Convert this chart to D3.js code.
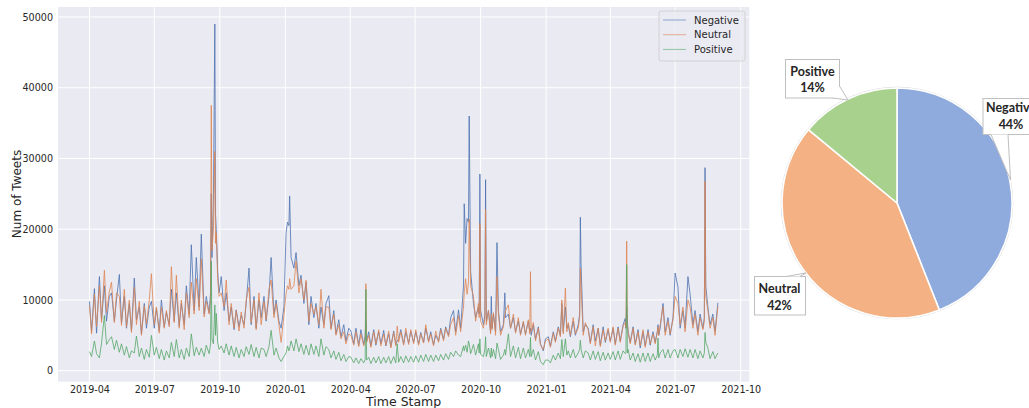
<!DOCTYPE html>
<html><head><meta charset="utf-8">
<script src="https://cdn.jsdelivr.net/npm/d3@7"></script>
<style>body{margin:0;background:#fff;} svg{display:block;}</style>
</head><body><svg id="c" width="1029" height="408"></svg>
<script>
// ---------------- DATA ----------------
const startDate = Date.UTC(2019, 3, 1); // day offsets below count from 2019-04-01
const days = [
0,3,7,10,14,17,21,24,28,
31,35,38,42,45,49,52,56,59,
63,66,70,73,77,80,84,87,
91,94,98,101,105,108,112,115,119,
122,126,129,133,136,140,143,147,150,
154,157,161,164,168,170,171,172,174,176,177,178,180,182,
185,189,192,196,199,203,206,210,213,
217,220,224,227,231,234,238,241,
245,248,252,255,259,262,266,269,273,
276,278,280,281,283,287,290,294,297,301,304,
308,311,315,318,322,325,329,332,
336,339,343,346,350,353,357,360,364,
367,371,374,378,381,385,387,388,389,392,395,
399,402,406,409,413,416,420,423,
427,430,432,434,437,441,444,448,451,455,
458,462,465,469,472,476,479,483,486,
490,493,497,500,504,507,511,514,518,
521,525,526,528,530,532,533,535,539,542,546,547,548,549,
553,555,556,557,560,563,564,565,567,570,572,574,577,
581,583,584,588,591,595,598,602,605,609,
612,616,618,619,620,623,626,630,633,637,640,
644,647,651,654,658,661,663,665,668,670,
672,675,679,682,686,688,689,690,693,696,
700,703,707,710,714,717,721,724,728,
731,735,738,742,745,749,752,753,754,755,756,759,
763,766,770,773,777,780,784,787,791,
794,797,798,799,801,805,808,812,815,819,
822,826,829,833,836,840,843,847,850,
854,857,861,863,864,865,868,871,875,878,882
];
const negative = [
9800,5600,11600,5300,13300,7200,12000,7000,10500,
11000,7000,10000,13600,6800,10500,6000,9500,5600,
13100,7200,9000,5200,9500,6000,9000,9800,
6000,8800,5600,10000,6200,8200,6500,11500,7000,
11000,6300,9500,6500,12000,8000,17800,8500,16000,
9000,19300,8000,10500,8200,11000,25000,16000,24000,49000,22000,20000,14000,11000,
13300,8500,11000,7000,9000,5800,8600,6200,7800,
6500,9500,14500,6500,10500,6000,10000,7500,
10500,7000,10500,16000,8000,10000,7000,6000,9000,
19500,21000,20500,24700,16000,14500,16700,12000,13500,9500,12500,
6500,10500,7500,9500,6000,9000,6500,9500,
10600,6000,8500,5200,7200,4800,6500,4200,6000,
5600,3800,6000,3600,5800,3700,5000,7000,4200,5500,3500,
5800,3600,5500,3800,5700,3500,5200,3400,
5600,3700,4200,4500,5800,3800,5500,3900,5600,4000,
5500,3800,5400,4000,6000,4200,5500,3700,5000,
4200,6000,4500,6200,5000,7500,8500,5500,8600,
6000,12000,23600,18000,21500,21000,36000,14000,9500,7500,9000,8000,27800,8500,
6500,8000,27000,7000,8500,5500,10500,6000,8000,5500,18100,8500,5500,
6500,11000,7500,8000,6000,7500,5500,7000,5200,6800,
5200,7000,5500,6000,5000,6500,4500,6200,3800,2800,4500,
4800,3500,5500,4200,6200,5000,9500,5500,9000,6000,
6500,4800,7000,5000,6500,8000,21700,15000,5500,6500,
6000,4000,6500,4200,6000,3600,6200,4000,5800,
4200,6000,3800,6200,4200,6500,7400,6000,9000,7000,5500,4000,
6200,3800,5800,3200,5500,3500,5800,3600,5500,
4000,5500,6500,5000,6000,9500,5500,7500,5000,7500,
13800,11800,6000,8500,6000,13300,10800,6500,8500,
5500,8000,6000,7500,28700,12000,9000,6500,8000,5500,9600
];
const neutral = [
9200,5200,10800,6200,12000,6800,14200,8200,11200,
12500,6800,11000,10500,6400,11500,6200,10000,5400,
11800,6500,9800,5000,9200,6600,10000,13700,
6500,9000,5300,9000,6000,8500,6200,14700,6800,
13500,6000,10000,5800,11000,7500,12500,8000,13000,
8500,15800,7600,9800,8000,10000,37500,17000,20000,31000,18000,19500,13000,10500,
11000,9000,12800,6500,9500,6000,8500,5600,8300,
6000,10000,11800,6800,10000,5800,11000,6500,
9800,7200,11500,12800,7500,9500,6500,4000,7800,
11000,12000,11500,13000,11500,12000,15500,11000,13000,10000,12800,
7000,9500,8000,9000,6500,11500,6000,9000,
9000,5800,8000,5000,6500,4500,5500,3800,5200,
5000,3600,5500,3400,5200,3500,4500,12300,4000,5000,3300,
5500,3800,5800,3500,5200,3600,5600,3200,
5400,3500,6300,4000,5500,3600,6000,3700,5800,3800,
5800,3600,5200,3900,6500,4000,5200,3500,5600,
4000,5800,4200,6000,4800,6500,7500,5000,7800,
5500,9000,11000,13000,10800,12500,21400,12000,10500,7000,9500,7500,20800,7000,
6000,7500,22800,6500,8500,5200,8000,5800,8200,5000,13300,8000,5000,
6200,8000,8500,9300,6000,8000,5300,7500,5000,7000,
5000,7200,5200,14000,5500,6800,4200,6000,3600,3000,4200,
4500,3300,5300,4000,6000,4800,10000,5200,11700,5500,
6800,5000,7500,5200,6000,7500,14500,12000,5000,6800,
5800,3800,6200,3500,6000,3400,5800,4200,6000,
4000,6200,3600,6000,4000,6300,6800,6000,18300,6500,5500,3800,
6000,3600,5500,3500,5800,3300,5500,3800,5200,
3800,5500,6200,5000,6500,9000,5000,7000,5200,7200,
10500,9500,6500,9000,5500,10000,9000,6000,8000,
5000,7500,5800,7000,26800,10500,8500,6000,7500,5000,9100
];
const positive = [
2700,2000,4200,2400,1800,3900,7800,3700,4400,
4800,3000,4300,2600,3800,2200,3400,1800,2800,
2500,4900,2000,3200,1600,3000,1900,5000,
2200,3300,1700,3000,1500,2800,1800,4000,2000,
4400,1800,3000,1600,3200,2000,5200,2100,3300,
2200,3200,2000,3600,2400,3800,15500,4500,3800,9300,5000,8100,4000,3000,
3500,2500,3800,2200,3500,2000,3300,1800,3000,
2000,3400,2300,3700,2000,3300,1800,3200,
3000,2000,3400,5700,2200,3200,1800,1300,2000,
2500,3500,2800,3200,4200,2800,4500,2700,3800,2300,3600,
2200,3800,2300,3500,2000,4500,2200,3400,
3000,1800,2800,1600,2600,1400,2300,1300,2000,
1900,1100,1800,1000,1700,1100,1600,11500,1500,1900,1000,
1900,1100,2000,1000,1900,1100,2000,1000,
2000,1100,3800,1200,2000,1100,2100,1200,2000,1200,
2100,1200,2200,1300,2300,1300,2200,1300,2200,
1400,2300,1500,2400,1600,2600,2000,2800,2200,
2000,3500,2800,3600,2600,4200,3800,2400,3700,2200,3800,2500,4500,2300,
2000,3000,4800,2000,3200,1800,3200,2000,3000,1700,3900,3000,1600,
2200,3000,2200,5200,2000,3500,1800,3300,1700,3200,
1800,3000,2000,4700,2000,3000,1500,2700,1300,850,1500,
1500,1100,2200,1500,2500,1700,4400,2000,4500,2200,
2800,1800,3000,1800,2500,3000,4300,3000,1800,2800,
2500,1500,2800,1600,2700,1400,2600,1500,2500,
1600,2700,1500,2800,1600,2800,2400,2500,15000,2500,3000,1500,
2500,1300,2400,1200,2500,1300,2500,1300,2400,
1500,2200,4600,1800,2500,3000,1800,3000,1800,2800,
3000,1800,3000,2000,3100,1900,3000,1800,3000,
1700,2800,1800,2500,5400,4000,3200,1700,2700,1700,2500
];
const seriesNames = ["Negative", "Neutral", "Positive"];
const yTicks = [0, 10000, 20000, 30000, 40000, 50000];
const pieLabels = ["Negative", "Neutral", "Positive"];
const pieValues = [44, 42, 14];

// ---------------- STYLE / LAYOUT ----------------
const lineColors = ["#4C72B0", "#DD8452", "#55A868"];
const pieColors = ["#8FAADC", "#F4B183", "#A9D18E"];
const M = {left: 58, top: 7, right: 749.3, bottom: 381.7};
const FONT = "'DejaVu Sans', sans-serif";

const svg = d3.select("#c");
const n = Math.min(days.length, negative.length, neutral.length, positive.length);
const dates = days.slice(0, n).map(d => d3.utcDay.offset(new Date(startDate), d));
const series = [negative, neutral, positive].map(a => a.slice(0, n));

const t0 = +dates[0], t1 = +dates[n - 1], tspan = t1 - t0;
const x = d3.scaleUtc()
  .domain([new Date(t0 - 0.05 * tspan), new Date(t1 + 0.05 * tspan)])
  .range([M.left, M.right]);
const allVals = series.flat();
const vmin = d3.min(allVals), vmax = d3.max(allVals), vspan = vmax - vmin;
const y = d3.scaleLinear()
  .domain([vmin - 0.05 * vspan, vmax + 0.05 * vspan])
  .range([M.bottom, M.top]);

// plot background
svg.append("rect").attr("x", M.left).attr("y", M.top)
  .attr("width", M.right - M.left).attr("height", M.bottom - M.top)
  .attr("fill", "#EAEAF2");

const xTicks = d3.utcMonth.every(3).range(x.domain()[0], x.domain()[1]);

// grid
const grid = svg.append("g");
grid.selectAll("line.h").data(yTicks).join("line")
  .attr("x1", M.left).attr("x2", M.right)
  .attr("y1", d => y(d)).attr("y2", d => y(d))
  .attr("stroke", "#fff").attr("stroke-width", 1);
grid.selectAll("line.v").data(xTicks).join("line")
  .attr("y1", M.top).attr("y2", M.bottom)
  .attr("x1", d => x(d)).attr("x2", d => x(d))
  .attr("stroke", "#fff").attr("stroke-width", 1);

// axes
const yAxis = svg.append("g").attr("transform", `translate(${M.left},0)`)
  .call(d3.axisLeft(y).tickValues(yTicks).tickSize(0).tickPadding(5).tickFormat(d3.format("d")));
const xAxis = svg.append("g").attr("transform", `translate(0,${M.bottom})`)
  .call(d3.axisBottom(x).tickValues(xTicks).tickSize(0).tickPadding(4).tickFormat(d3.utcFormat("%Y-%m")));
[yAxis, xAxis].forEach(g => {
  g.select(".domain").remove();
  g.selectAll("text").attr("font-family", FONT).attr("font-size", 9.6).attr("fill", "#262626");
});

// axis titles
svg.append("text").attr("x", (M.left + M.right) / 2).attr("y", 406)
  .attr("text-anchor", "middle").attr("font-family", FONT).attr("font-size", 12.5)
  .attr("fill", "#262626").text("Time Stamp");
svg.append("text").attr("transform", "translate(21,194) rotate(-90)")
  .attr("text-anchor", "middle").attr("font-family", FONT).attr("font-size", 12)
  .attr("fill", "#262626").text("Num of Tweets");

// lines
const line = d3.line().x((d, i) => x(dates[i])).y(d => y(d));
series.forEach((s, k) => {
  svg.append("path").datum(s).attr("d", line)
    .attr("fill", "none").attr("stroke", lineColors[k])
    .attr("stroke-width", 1).attr("stroke-opacity", 0.8)
    .attr("stroke-linejoin", "round");
});

// legend
const lg = svg.append("g");
lg.append("rect").attr("x", 659).attr("y", 11).attr("width", 86).attr("height", 50)
  .attr("rx", 2.5).attr("fill", "#EAEAF2").attr("fill-opacity", 0.8)
  .attr("stroke", "#cccccc").attr("stroke-width", 0.8);
seriesNames.forEach((name, k) => {
  const yy = 20 + k * 14.7;
  lg.append("line").attr("x1", 663).attr("x2", 686).attr("y1", yy).attr("y2", yy)
    .attr("stroke", lineColors[k]).attr("stroke-width", 1).attr("stroke-opacity", 0.6);
  lg.append("text").attr("x", 694).attr("y", yy + 3.6)
    .attr("font-family", FONT).attr("font-size", 10).attr("fill", "#262626").text(name);
});

// ---------------- PIE ----------------
const cx = 897, cy = 203, R = 115;
const pg = svg.append("g").attr("transform", `translate(${cx},${cy})`);
const arcs = d3.pie().sort(null)(pieValues);
const arc = d3.arc().innerRadius(0).outerRadius(R);
pg.append("circle").attr("r", R + 0.8).attr("fill", "none").attr("stroke", "#dcdcdc").attr("stroke-width", 1);
pg.selectAll("path").data(arcs).join("path")
  .attr("d", arc).attr("fill", (d, i) => pieColors[i])
  .attr("stroke", "#fff").attr("stroke-width", 1.6).attr("stroke-linejoin", "round");

// callouts (box, pointer base on box edge, tip on pie edge)
const callouts = [
  {i: 0, box: [983, 98.5, 58, 36], base: [[991, 134.5], [1008, 134.5]], tip: [1010.5, 180], tx: 1011, ty: [112, 128.5]},
  {i: 1, box: [754.5, 276.5, 51, 38.5], base: [[786, 276.5], [800, 276.5]], tip: [806, 273], tx: 779.5, ty: [293, 310]},
  {i: 2, box: [785.5, 59.5, 54, 38.5], base: [[839.5, 86], [833, 98]], tip: [848, 100], tx: 812.5, ty: [76, 92]}
];
const cg = svg.append("g");
callouts.forEach(c => {
  cg.append("rect").attr("x", c.box[0]).attr("y", c.box[1]).attr("width", c.box[2]).attr("height", c.box[3])
    .attr("fill", "#fff").attr("stroke", "#bfbfbf").attr("stroke-width", 1);
  const p = d3.path();
  p.moveTo(c.base[0][0], c.base[0][1]);
  p.lineTo(c.tip[0], c.tip[1]);
  p.lineTo(c.base[1][0], c.base[1][1]);
  cg.append("path").attr("d", p.toString()).attr("fill", "#fff")
    .attr("stroke", "#bfbfbf").attr("stroke-width", 1);
  const pct = Math.round(100 * pieValues[c.i] / d3.sum(pieValues)) + "%";
  [pieLabels[c.i], pct].forEach((t, j) => {
    cg.append("text").attr("x", c.tx).attr("y", c.ty[j]).attr("text-anchor", "middle")
      .attr("font-family", "Lato, 'Open Sans', sans-serif").attr("font-weight", "bold")
      .attr("font-size", 12.5).attr("fill", "#262626").text(t);
  });
});
</script>
</body></html>
